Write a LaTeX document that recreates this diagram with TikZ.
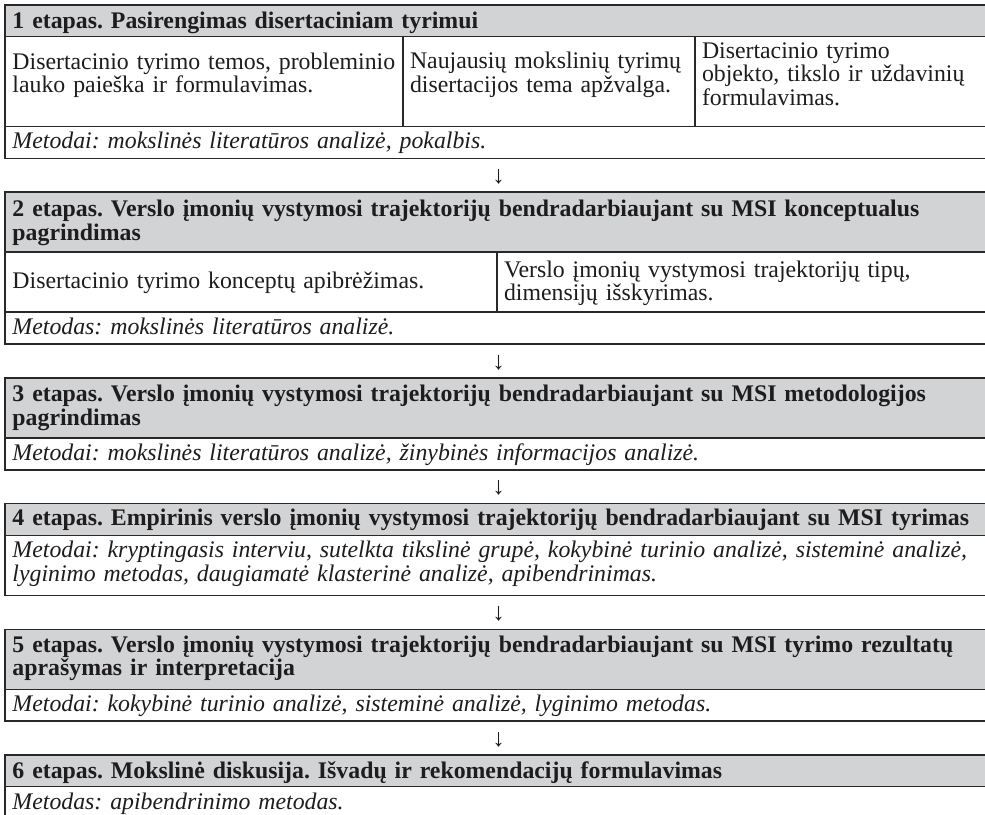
\documentclass[tikz,border=0pt]{standalone}
\usepackage{fontspec}
\setmainfont{Liberation Serif}
\usetikzlibrary{calc}
\definecolor{hdrgray}{RGB}{209,211,212}
\definecolor{rulecol}{RGB}{40,40,40}
\definecolor{ink}{RGB}{30,28,29}
\newcommand{\tblfont}{\fontsize{23.8}{23.5}\selectfont}
\frenchspacing
\tikzset{
  cellbase/.style={draw=rulecol, line width=1.2pt, anchor=north west,
    inner sep=0pt, outer sep=0pt},
  hdrcell/.style={cellbase, fill=hdrgray, minimum width=987pt, minimum height=#1},
  fullcell/.style={cellbase, fill=white, minimum width=987pt, minimum height=#1},
  subcell/.style={cellbase, fill=white},
  txt/.style={anchor=base west, inner sep=0pt, outer sep=0pt, text=ink,
    text width=960pt, align=left, font=\tblfont,
    execute at begin node={\frenchspacing\baselineskip=23.5pt\lineskiplimit=-50pt\relax}},
  boldtxt/.style={txt, font=\tblfont\bfseries},
  itxt/.style={txt, font=\tblfont\itshape},
  downmark/.style={inner sep=0pt, text=ink, font=\fontsize{25}{25}\selectfont}
}
\begin{document}
\begin{tikzpicture}[x=1pt,y=-1pt]
\useasboundingbox[fill=white] (0,0) rectangle (985,814);

% ---- stage 1
\node[hdrcell=31.3pt] (h1) at (5,5) {};
\node[subcell, minimum width=398pt, minimum height=90.2pt] (r1a) at (5,36.3) {};
\node[subcell, minimum width=292pt, minimum height=90.2pt] (r1b) at (403,36.3) {};
\node[subcell, minimum width=297pt, minimum height=90.2pt] (r1c) at (695,36.3) {};
\node[fullcell=32pt] (m1) at (5,126.5) {};

% ---- stage 2
\node[hdrcell=60pt] (h2) at (5,192) {};
\node[subcell, minimum width=492pt, minimum height=60pt] (r2a) at (5,252) {};
\node[subcell, minimum width=495pt, minimum height=60pt] (r2b) at (497,252) {};
\node[fullcell=32pt] (m2) at (5,312) {};

% ---- stage 3
\node[hdrcell=60pt] (h3) at (5,378) {};
\node[fullcell=32pt] (m3) at (5,438) {};

% ---- stage 4
\node[hdrcell=32.2pt] (h4) at (5,503.3) {};
\node[fullcell=60.3pt] (m4) at (5,535.5) {};

% ---- stage 5
\node[hdrcell=60pt] (h5) at (5,629.3) {};
\node[fullcell=31.7pt] (m5) at (5,689.3) {};

% ---- stage 6
\node[hdrcell=31.8pt] (h6) at (5,755) {};
\node[fullcell=32pt] (m6) at (5,786.8) {};

% ---- cell texts
\node[boldtxt] (th1) at ($(h1.north west)+(7.5,23)$) {1 etapas. Pasirengimas disertaciniam tyrimui};
\node[txt] (tr1a) at ($(r1a.north west)+(7.5,32.7)$) {Disertacinio tyrimo temos, probleminio\\lauko paieška ir formulavimas.};
\node[txt] (tr1b) at ($(r1b.north west)+(7,32.5)$) {Naujausių mokslinių tyrimų\\disertacijos tema apžvalga.};
\node[txt] (tr1c) at ($(r1c.north west)+(7,21.7)$) {Disertacinio tyrimo\\objekto, tikslo ir uždavinių\\formulavimas.};
\node[itxt] (tm1) at ($(m1.north west)+(7.5,22)$) {Metodai: mokslinės literatūros analizė, pokalbis.};

\node[boldtxt] (th2) at ($(h2.north west)+(7.5,24.5)$) {2 etapas. Verslo įmonių vystymosi trajektorijų bendradarbiaujant su MSI konceptualus\\pagrindimas};
\node[txt] (tr2a) at ($(r2a.north west)+(7.5,36.5)$) {Disertacinio tyrimo konceptų apibrėžimas.};
\node[txt] (tr2b) at ($(r2b.north west)+(7,25)$) {Verslo įmonių vystymosi trajektorijų tipų,\\dimensijų išskyrimas.};
\node[itxt] (tm2) at ($(m2.north west)+(7.5,22)$) {Metodas: mokslinės literatūros analizė.};

\node[boldtxt] (th3) at ($(h3.north west)+(7.5,23.5)$) {3 etapas. Verslo įmonių vystymosi trajektorijų bendradarbiaujant su MSI metodologijos\\pagrindimas};
\node[itxt] (tm3) at ($(m3.north west)+(7.5,22.5)$) {Metodai: mokslinės literatūros analizė, žinybinės informacijos analizė.};

\node[boldtxt] (th4) at ($(h4.north west)+(7.5,22.5)$) {4 etapas. Empirinis verslo įmonių vystymosi trajektorijų bendradarbiaujant su MSI tyrimas};
\node[itxt] (tm4) at ($(m4.north west)+(7.5,22)$) {Metodai: kryptingasis interviu, sutelkta tikslinė grupė, kokybinė turinio analizė, sisteminė analizė,\\lyginimo metodas, daugiamatė klasterinė analizė, apibendrinimas.};

\node[boldtxt] (th5) at ($(h5.north west)+(7.5,23)$) {5 etapas. Verslo įmonių vystymosi trajektorijų bendradarbiaujant su MSI tyrimo rezultatų\\aprašymas ir interpretacija};
\node[itxt] (tm5) at ($(m5.north west)+(7.5,22.5)$) {Metodai: kokybinė turinio analizė, sisteminė analizė, lyginimo metodas.};

\node[boldtxt] (th6) at ($(h6.north west)+(7.5,23)$) {6 etapas. Mokslinė diskusija. Išvadų ir rekomendacijų formulavimas};
\node[itxt] (tm6) at ($(m6.north west)+(7.5,22.5)$) {Metodas: apibendrinimo metodas.};

% ---- arrows between the stages
\node[downmark] (a1) at ($(m1.south)!0.5!(h2.north) + (0,1.5)$) {↓};
\node[downmark] (a2) at ($(m2.south)!0.5!(h3.north) + (0,1.5)$) {↓};
\node[downmark] (a3) at ($(m3.south)!0.5!(h4.north) + (0,1.5)$) {↓};
\node[downmark] (a4) at ($(m4.south)!0.5!(h5.north) + (0,1.5)$) {↓};
\node[downmark] (a5) at ($(m5.south)!0.5!(h6.north) + (0,1.5)$) {↓};
\end{tikzpicture}
\end{document}
